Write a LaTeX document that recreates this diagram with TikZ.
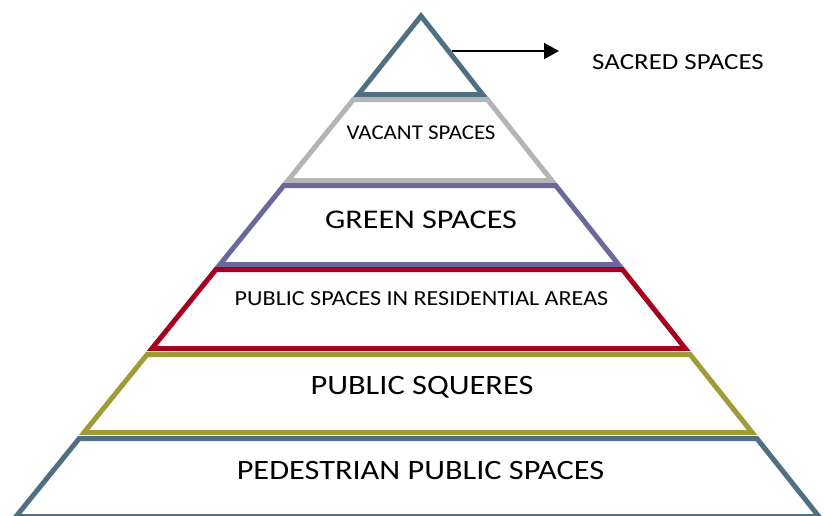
\documentclass[tikz,border=0pt]{standalone}
\usepackage{fontspec}
\setmainfont{Carlito}
\usetikzlibrary{arrows.meta}
\definecolor{tierblue}{HTML}{4F7083}
\definecolor{tiergrey}{HTML}{B4B4B4}
\definecolor{tierpurple}{HTML}{6A689C}
\definecolor{tierred}{HTML}{A6001E}
\definecolor{tierolive}{HTML}{9E9C36}
% one band of the pyramid: outer top y, outer bottom y, outline colour
\newcommand{\pyrtier}[3]{%
  \pgfmathsetmacro\ta{#1+2.5}\pgfmathsetmacro\tb{#2-2.5}%
  \pgfmathsetmacro\la{421-0.809*(\ta-12)+3.2}%
  \pgfmathsetmacro\ra{421+0.795*(\ta-12)-3.2}%
  \pgfmathsetmacro\lb{421-0.809*(\tb-12)+3.2}%
  \pgfmathsetmacro\rb{421+0.795*(\tb-12)-3.2}%
  \draw[tier,draw=#3] (\la,\ta) -- (\ra,\ta) -- (\rb,\tb) -- (\lb,\tb) -- cycle;}
% wide capitals: font size, horizontal stretch, text
\newcommand{\widecaps}[3]{\fontsize{#1}{#1}\selectfont\scalebox{#2}[1]{#3}}
\tikzset{
  tier/.style={line width=5pt, line join=miter, fill=white},
  label/.style={text=black, inner sep=0pt, anchor=center},
}
\begin{document}
\begin{tikzpicture}[x=1pt,y=-1pt]
  \useasboundingbox (0,0) rectangle (824,515);
  \begin{scope}
    \clip (0,0) rectangle (824,515);
    % apex triangle
    \draw[tier,draw=tierblue] (421,16) -- (421+0.795*81.5-3.2,94.5) -- (421-0.809*81.5+3.2,94.5) -- cycle;
    \pyrtier{97}{183}{tiergrey}
    \pyrtier{183}{267}{tierpurple}
    \pyrtier{267}{351}{tierred}
    \pyrtier{352}{435}{tierolive}
    \pyrtier{436}{519}{tierblue}
  \end{scope}
  % labels
  \node[label] (vacant) at (421,132.5) {\widecaps{21}{1.09}{VACANT SPACES}};
  \node[label] (green) at (421,220) {\widecaps{27}{1.19}{GREEN SPACES}};
  \node[label] (resid) at (421.5,299) {\widecaps{21.5}{1.12}{PUBLIC SPACES IN RESIDENTIAL AREAS}};
  \node[label] (squares) at (422,387) {\widecaps{28}{1.158}{PUBLIC SQUERES}};
  \node[label] (pedestrian) at (420.5,471) {\widecaps{28}{1.155}{PEDESTRIAN PUBLIC SPACES}};
  \node[label] (sacred) at (678,62.5) {\widecaps{23}{1.17}{SACRED SPACES}};
  % pointer from the apex to its label
  \coordinate (apexside) at (452,51);
  \coordinate (pointend) at (559,51);
  \draw[line width=1.8pt, -{Triangle[length=15pt,width=16pt]}] (apexside) -- (pointend);
\end{tikzpicture}
\end{document}
